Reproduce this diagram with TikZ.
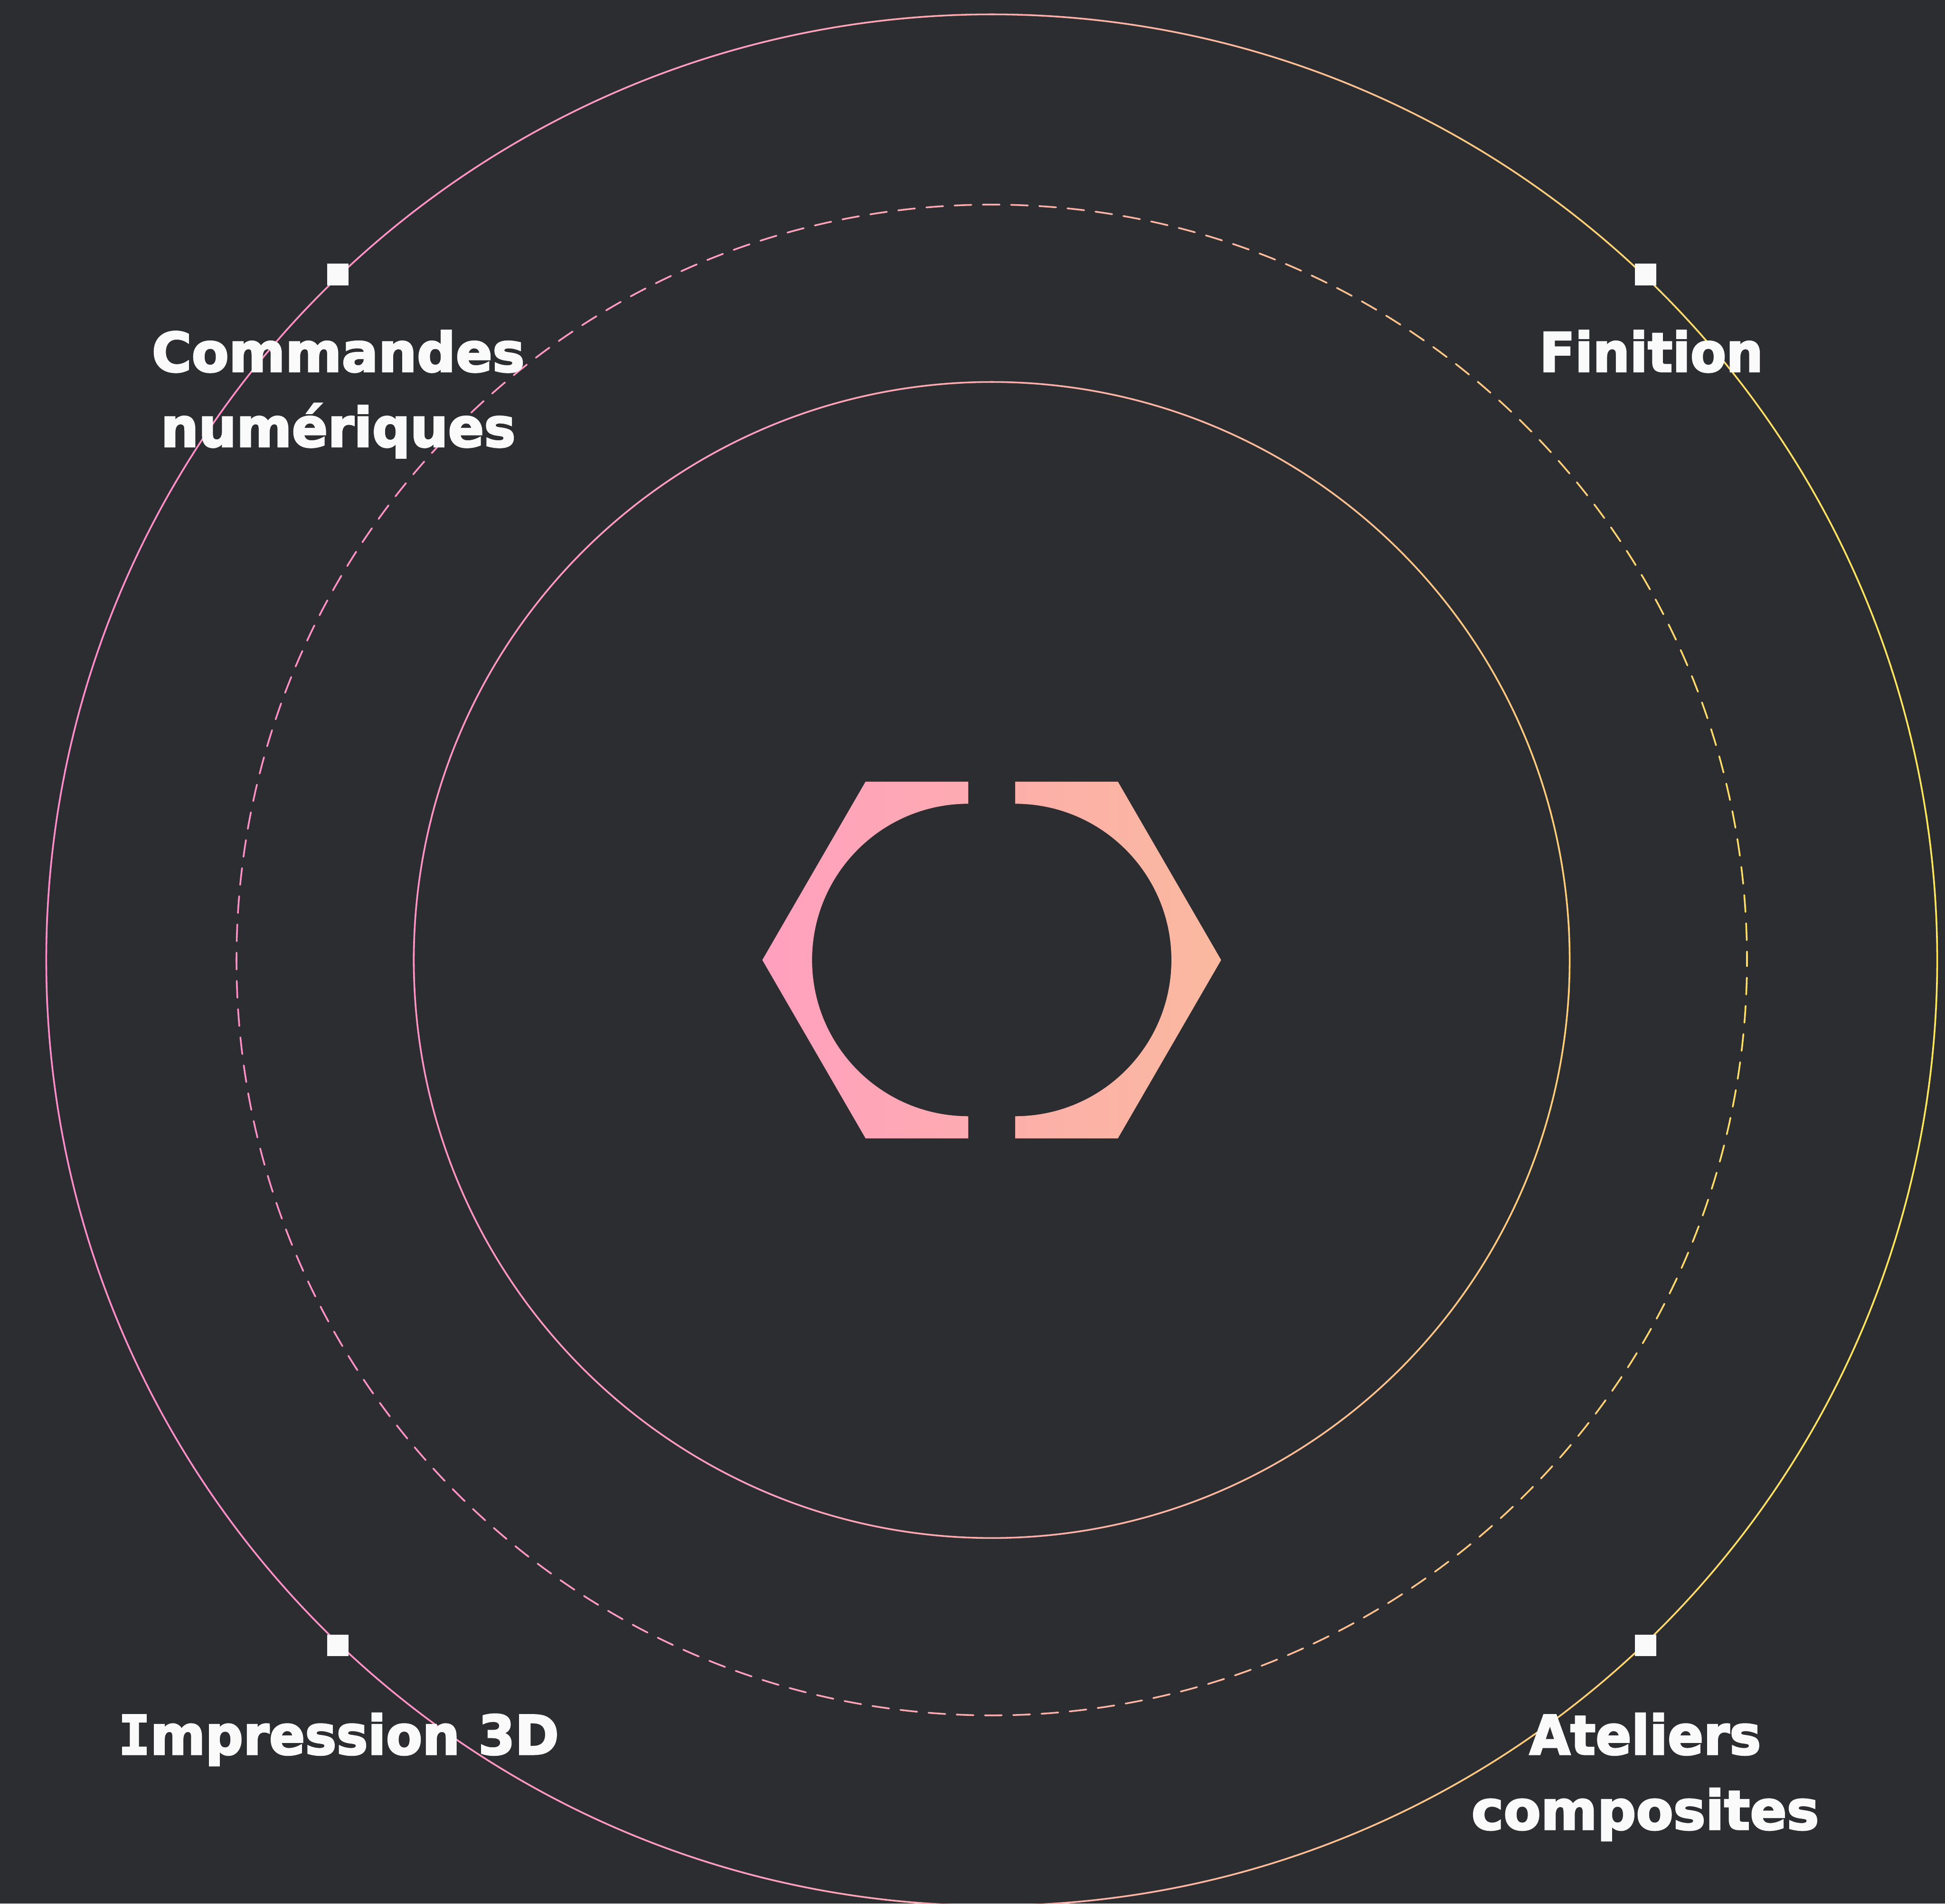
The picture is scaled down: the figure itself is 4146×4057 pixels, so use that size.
\documentclass[tikz,border=0pt]{standalone}
\usepackage{fontspec}
\setmainfont{DejaVu Sans}[BoldFeatures={FakeBold=3}]
\newfontfamily\slabfont{DejaVu Sans Mono}[BoldFeatures={FakeBold=3}]
\definecolor{bgdark}{RGB}{44,45,48}
\definecolor{inkwhite}{RGB}{250,250,250}
\tikzset{
  x=0.1pt,y=-0.1pt,
  sqmark/.style={fill=inkwhite,draw=none,inner sep=0pt,minimum size=4.6pt,shape=rectangle},
  lab/.style={text=inkwhite,font=\fontsize{11.55}{16}\selectfont\bfseries,align=center,inner sep=0pt,anchor=base},
  ring/.style={line width=0.36pt},
  dashring/.style={line width=0.36pt,line cap=round,dash pattern=on 3.6pt off 2.425pt,dash phase=1.8pt}
}
% a ring whose colour runs from pink at the left to yellow at the right
\newcommand{\gradring}[2]{%
  \foreach \xa/\xb/\ra/\ga/\ba/\rb/\gb/\bb in {
    0/98/255/141/202/255/141/202,
    98/880/255/141/202/255/147/198,
    880/1625/255/147/198/255/160/191,
    1625/2114/255/160/191/253/173/174,
    2114/2602/253/173/174/255/185/160,
    2602/3345/255/185/160/255/207/120,
    3345/3725/255/207/120/255/223/102,
    3725/4146/255/223/102/255/233/90}{%
    \pgfmathtruncatemacro{\nn}{max(1,ceil((\xb-\xa)/40))}%
    \foreach \i in {1,...,\nn}{%
      \pgfmathsetmacro{\ta}{(\i-1)/\nn}%
      \pgfmathsetmacro{\tb}{\i/\nn}%
      \pgfmathsetmacro{\tm}{(\i-0.5)/\nn}%
      \pgfmathsetmacro{\xs}{\xa+(\xb-\xa)*\ta}%
      \pgfmathsetmacro{\xe}{\xa+(\xb-\xa)*\tb+1}%
      \pgfmathtruncatemacro{\cr}{\ra+(\rb-\ra)*\tm}%
      \pgfmathtruncatemacro{\cg}{\ga+(\gb-\ga)*\tm}%
      \pgfmathtruncatemacro{\cb}{\ba+(\bb-\ba)*\tm}%
      \definecolor{ringcol}{RGB}{\cr,\cg,\cb}%
      \begin{scope}
        \clip (\xs,-20) rectangle (\xe,4100);
        \draw[#2,draw=ringcol] (2114,2046) circle[radius=#1];
      \end{scope}
    }%
  }%
}
\begin{document}
\begin{tikzpicture}
  \useasboundingbox (0,0) rectangle (4146,4057);
  \fill[bgdark] (0,0) rectangle (4146,4057);

  \gradring{201.55pt}{ring}
  \gradring{161pt}{dashring}
  \gradring{123.2pt}{ring}

  % central hexagon, two halves
  \shade[left color={rgb,255:red,255;green,160;blue,191},right color={rgb,255:red,254;green,171;blue,177}]
    (1845,1666) -- (2064,1666) -- (2064,1713)
    arc[start angle=90,end angle=270,radius=33.3pt]
    -- (2064,2426) -- (1845,2426) -- (1625,2046) -- cycle;
  \shade[left color={rgb,255:red,252;green,175;blue,169},right color={rgb,255:red,251;green,185;blue,160}]
    (2383,1666) -- (2164,1666) -- (2164,1713)
    arc[start angle=90,end angle=-90,radius=33.3pt]
    -- (2164,2426) -- (2383,2426) -- (2603,2046) -- cycle;

  % corner markers
  \node[sqmark] (mtl) at (720,585) {};
  \node[sqmark] (mtr) at (3508,585) {};
  \node[sqmark] (mbl) at (720,3507) {};
  \node[sqmark] (mbr) at (3508,3507) {};

  % labels
  \node[lab] (lcn) at (721,952) {Commandes\\\scalebox{0.98}[1]{numériques}};
  \node[lab] (lfi) at (3520,792) {\scalebox{0.96}[1]{Finition}};
  \node[lab] (lim) at (722,3739) {\scalebox{0.975}[1]{{\slabfont I}mpression 3D}};
  \node[lab] (lac) at (3507,3899) {\scalebox{0.975}[1]{Ateliers}\\composites};
\end{tikzpicture}
\end{document}
